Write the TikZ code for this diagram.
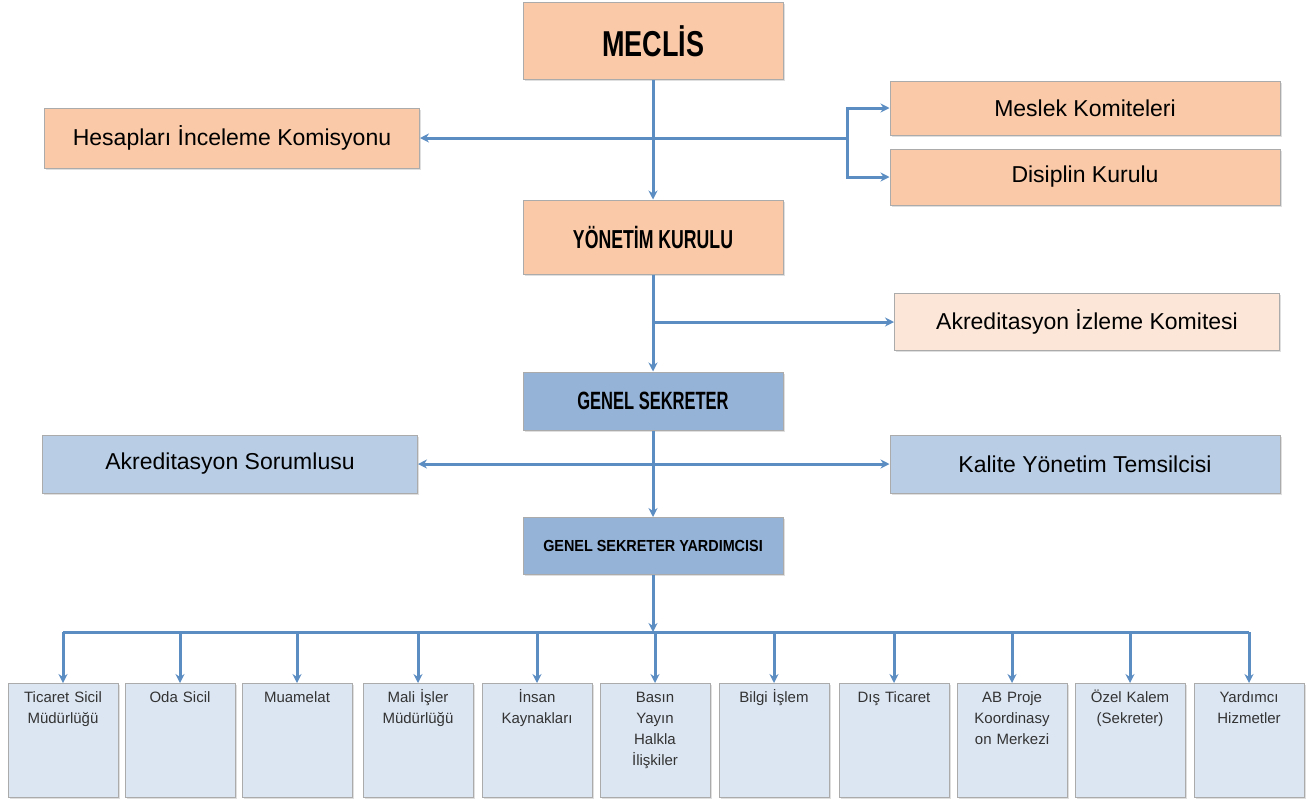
\documentclass[tikz,border=0pt]{standalone}
\usepackage{fontspec}
\setmainfont{Liberation Sans}
\usetikzlibrary{arrows.meta,shadows}

\definecolor{peach}{HTML}{F9C9A8}
\definecolor{palepeach}{HTML}{FCE6D8}
\definecolor{midblue}{HTML}{95B3D7}
\definecolor{lightblue}{HTML}{B9CDE5}
\definecolor{paleblue}{HTML}{DCE6F2}
\definecolor{linkblue}{HTML}{5B8CC2}
\definecolor{boxedge}{HTML}{ABABAB}
\newcommand{\squeeze}[2]{\scalebox{#1}[1]{#2}}

\tikzset{
  unitbox/.style={draw=boxedge, line width=1pt, inner sep=0pt,
    drop shadow={shadow xshift=1.5pt,shadow yshift=-1.5pt,opacity=.25}},
  headbox/.style={unitbox, minimum width=260pt},
  sidebox/.style={unitbox, minimum width=385pt, minimum height=57pt,
    font=\fontsize{23}{26}\selectfont},
  deptbox/.style={unitbox, fill=paleblue, minimum width=110pt, text width=104pt,
    align=center, text height=19pt, text depth=95pt,
    font=\fontsize{15}{21}\selectfont, text=black!80},
  link/.style={draw=linkblue, line width=3pt, -{Stealth[length=9pt,width=9pt]}},
  busline/.style={draw=linkblue, line width=3pt},
}

\begin{document}
\begin{tikzpicture}[x=1pt,y=-1pt]
\useasboundingbox (0,0) rectangle (1311,804);

% upper levels
\node[headbox, fill=peach, minimum height=77pt, font=\bfseries\fontsize{36}{40}\selectfont] (meclis) at (653,41) {\squeeze{.75}{MECLİS}};
\node[sidebox, fill=peach, minimum width=375pt, minimum height=60pt] (hesap) at (232,138) {Hesapları İnceleme Komisyonu};
\node[sidebox, fill=peach, minimum width=390pt, minimum height=54pt] (meslek) at (1085,108) {Meslek Komiteleri};
\node[sidebox, fill=peach, minimum width=390pt, minimum height=56pt] (disiplin) at (1085,177) {Disiplin Kurulu};
\node[headbox, fill=peach, minimum height=74pt, font=\bfseries\fontsize{26}{30}\selectfont] (yonetim) at (653,237) {\squeeze{.68}{YÖNETİM KURULU}};
\node[sidebox, fill=palepeach] (izleme) at (1087,322) {Akreditasyon İzleme Komitesi};
\node[headbox, fill=midblue, minimum height=58pt, font=\bfseries\fontsize{25}{28}\selectfont] (genel) at (653,401) {\squeeze{.66}{GENEL SEKRETER}};
\node[sidebox, fill=lightblue, minimum width=375pt, minimum height=58pt] (sorumlu) at (230,464) {Akreditasyon Sorumlusu};
\node[sidebox, fill=lightblue, minimum width=390pt, minimum height=58pt] (kalite) at (1085,464) {Kalite Yönetim Temsilcisi};
\node[headbox, fill=midblue, minimum height=57pt, font=\bfseries\fontsize{16}{18}\selectfont] (yardimci) at (653,546) {\squeeze{.9}{GENEL SEKRETER YARDIMCISI}};

% departments
\foreach \x/\name [count=\i] in {63/{Ticaret Sicil\\Müdürlüğü}, 180/{Oda Sicil}, 297/{Muamelat}, 418/{Mali İşler\\Müdürlüğü}, 537/{İnsan\\Kaynakları}, 655/{Basın\\Yayın\\Halkla\\İlişkiler}, 774/{Bilgi İşlem}, 894/{Dış Ticaret}, 1012/{AB Proje\\Koordinasy\\on Merkezi}, 1130/{Özel Kalem\\(Sekreter)}, 1249/{Yardımcı\\Hizmetler}}
  \node[deptbox, anchor=north] (d\i) at (\x,683) {\name};

% connectors
\coordinate (split) at (847,138);
\coordinate (bus) at (653,632);
\draw[link] (meclis) -- (yonetim);
\draw[link] (split) -- (hesap);
\draw[link] (split) |- (meslek);
\draw[link] (split) |- (disiplin);
\draw[link] (yonetim) -- (genel);
\draw[link] (yonetim.south |- izleme) -- (izleme);
\draw[link] (genel) -- (yardimci);
\draw[link, {Stealth[length=9pt,width=9pt]}-{Stealth[length=9pt,width=9pt]}] (sorumlu) -- (kalite);
\draw[link] (yardimci) -- (bus);
\draw[busline] (d1 |- bus) -- (d11 |- bus);
\foreach \i in {1,...,11}
  \draw[link] (d\i |- bus) -- (d\i);
\end{tikzpicture}
\end{document}
